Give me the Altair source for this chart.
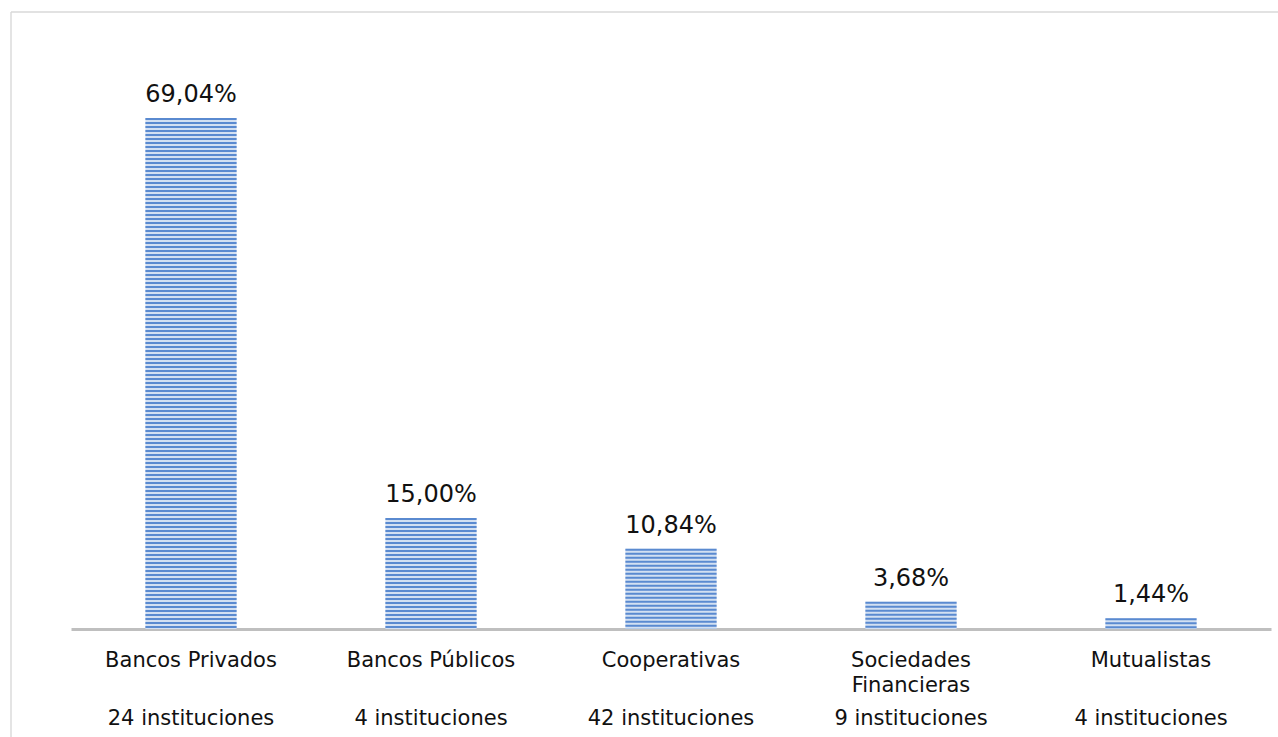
import altair as alt
import pandas as pd

# ---- data ----
label_line1 = ["Bancos Privados", "Bancos Públicos", "Cooperativas", "Sociedades", "Mutualistas"]
label_line2 = ["", "", "", "Financieras", ""]
institutions = [24, 4, 42, 9, 4]
shares = [69.04, 15.00, 10.84, 3.68, 1.44]

keys = [f"{a}|{b}" if b else a for a, b in zip(label_line1, label_line2)]
df = pd.DataFrame(
    {
        "key": keys,
        "share": shares,
        "inst": [f"{n} instituciones" for n in institutions],
    }
)

FONT = "DejaVu Sans"
TEXT = "#111111"

x = alt.X(
    "key:N",
    sort=None,
    title=None,
    scale=alt.Scale(paddingInner=0.62, paddingOuter=0.31),
    axis=alt.Axis(
        labelAngle=0,
        ticks=False,
        tickSize=0,
        grid=False,
        domainColor="#bfbfbf",
        domainWidth=3,
        labelFont=FONT,
        labelFontSize=21,
        labelColor=TEXT,
        labelPadding=20,
        labelLineHeight=25,
        labelBaseline="top",
        labelLimit=0,
        labelExpr="split(datum.label, '|')",
    ),
)
yscale = alt.Scale(domain=[0, 80])

base = alt.Chart(df)

bars = base.mark_bar(color="#d3e0f2").encode(
    x=x, y=alt.Y("share:Q", scale=yscale, axis=None)
)

stripes = (
    base.transform_calculate(seq="sequence(0, datum.share, 0.5405)")
    .transform_flatten(["seq"])
    .transform_calculate(
        top="datum.share - datum.seq",
        bot="max(0, datum.share - datum.seq - 0.27)",
    )
    .mark_bar(color="#5a8ad0")
    .encode(x=x, y=alt.Y("top:Q", scale=yscale, axis=None), y2="bot:Q")
)

values = (
    base.transform_calculate(
        txt="replace(format(datum.share, '.2f'), '.', ',') + '%'"
    )
    .mark_text(font=FONT, fontSize=24, color=TEXT, baseline="alphabetic", dy=-16)
    .encode(x=x, y=alt.Y("share:Q", scale=yscale, axis=None), text="txt:N")
)

inst_text = base.mark_text(
    font=FONT, fontSize=21, color=TEXT, baseline="alphabetic"
).encode(x=x, y=alt.value(688), text="inst:N")

frame_data = alt.Data(values=[{"a": 1}])
frame_top = alt.Chart(frame_data).mark_rule(color="#d9d9d9", strokeWidth=1.4).encode(
    x=alt.value(-60), x2=alt.value(1210), y=alt.value(-25)
)
frame_left = alt.Chart(frame_data).mark_rule(color="#d9d9d9", strokeWidth=1.4).encode(
    x=alt.value(-60), y=alt.value(-25), y2=alt.value(710)
)

chart = (
    alt.layer(bars, stripes, values, inst_text, frame_top, frame_left)
    .properties(
        width=1200,
        height=592,
        padding={"left": 71, "top": 37, "right": 7, "bottom": 108},
        autosize=alt.AutoSizeParams(type="none"),
        background="white",
    )
    .configure_view(stroke=None)
)

chart.save("out.html", embed_options={"renderer": "svg", "actions": False})
